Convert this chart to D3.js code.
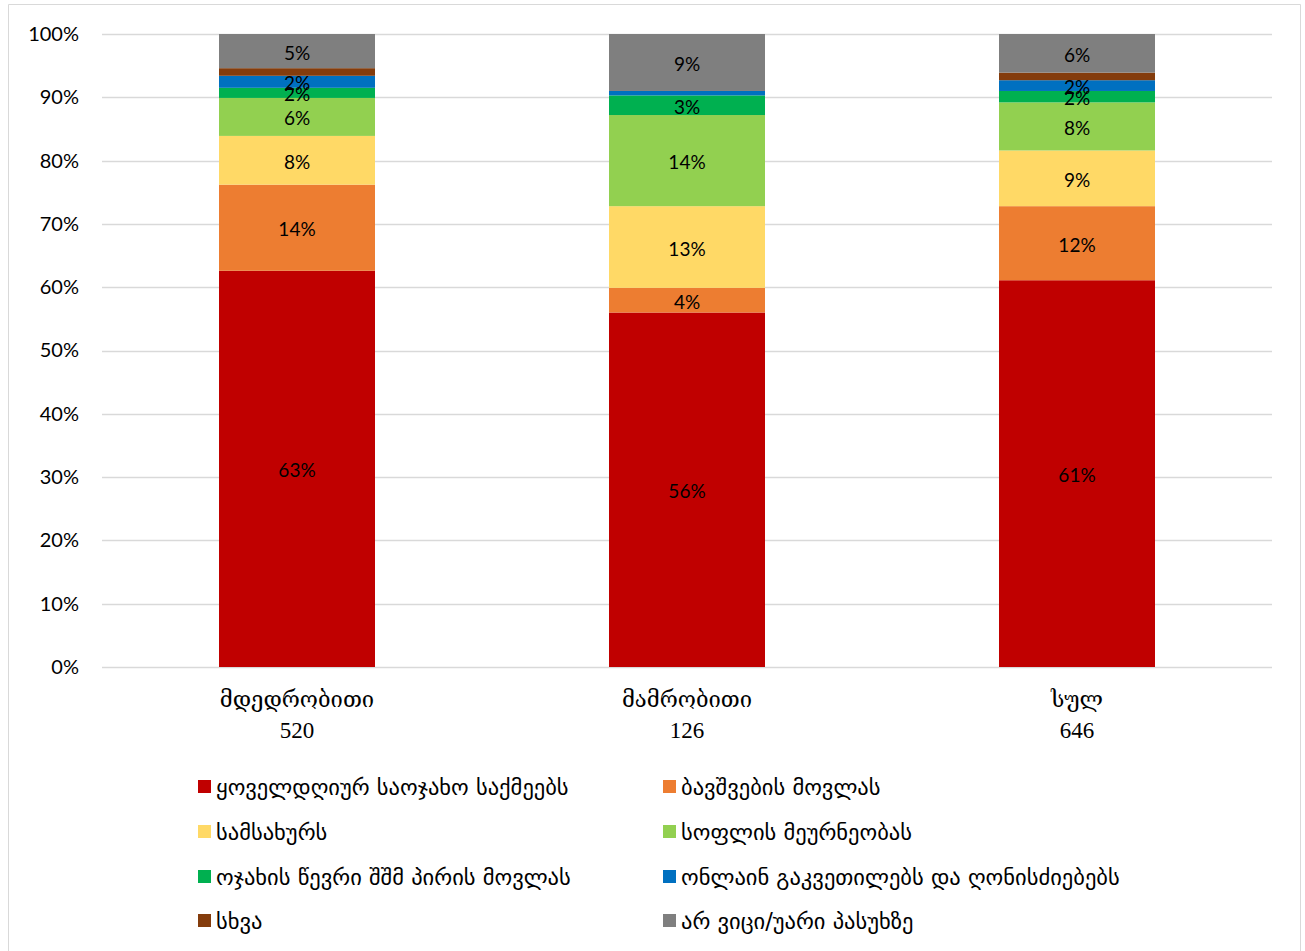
<!DOCTYPE html>
<html>
<head>
<meta charset="utf-8">
<script src="https://cdn.jsdelivr.net/npm/d3@7"></script>
<style>
  body { margin: 0; background: #fff; }
  svg { display: block; }
</style>
</head>
<body>
<svg id="chart" width="1305" height="951"></svg>
<script>
// categories with respondent counts
var categories = ["მდედრობითი", "მამრობითი", "სულ"];
var counts = ["520", "126", "646"];

// series names (stack order, bottom to top)
var seriesNames = [
    "ყოველდღიურ საოჯახო საქმეებს",
    "ბავშვების მოვლას",
    "სამსახურს",
    "სოფლის მეურნეობას",
    "ოჯახის წევრი შშმ პირის მოვლას",
    "ონლაინ გაკვეთილებს და ღონისძიებებს",
    "სხვა",
    "არ ვიცი/უარი პასუხზე"
];
var seriesColors = ["#C00000", "#ED7D31", "#FFD966", "#92D050", "#00B050", "#0070C0", "#843C0C", "#7F7F7F"];

// values in percent, one array per category
var femaleValues = [62.6, 13.6, 7.7, 6.0, 1.6, 1.9, 1.2, 5.4];
var maleValues   = [56.0, 3.9, 12.9, 14.4, 3.1, 0.7, 0.0, 9.0];
var totalValues  = [61.1, 11.7, 8.8, 7.6, 1.8, 1.7, 1.2, 6.1];

var yTicks = [0, 10, 20, 30, 40, 50, 60, 70, 80, 90, 100];

var allValues = [femaleValues, maleValues, totalValues];

var svg = d3.select("#chart");

// outer frame
svg.append("path")
    .attr("d", "M8.5,951 V4.5 H1300.5 V951")
    .attr("fill", "none")
    .attr("stroke", "#d9d9d9")
    .attr("stroke-width", 1);

var plotLeft = 102, plotRight = 1272, plotTop = 34, plotBottom = 667;

var x = d3.scaleBand()
    .domain(categories)
    .range([plotLeft, plotRight])
    .paddingInner(0.6)
    .paddingOuter(0.3);

var y = d3.scaleLinear()
    .domain([0, 100])
    .range([plotBottom, plotTop]);

// gridlines
svg.append("g")
    .selectAll("line")
    .data(yTicks)
    .join("line")
        .attr("x1", plotLeft)
        .attr("x2", plotRight)
        .attr("y1", function (d) { return Math.round(y(d)) + 0.5; })
        .attr("y2", function (d) { return Math.round(y(d)) + 0.5; })
        .attr("stroke", "#d9d9d9")
        .attr("stroke-width", 1.5);

// y axis labels
var yAxis = d3.axisLeft(y)
    .tickValues(yTicks)
    .tickFormat(function (d) { return d + "%"; })
    .tickSize(0)
    .tickPadding(23);

var yg = svg.append("g")
    .attr("transform", "translate(" + plotLeft + ",0)")
    .call(yAxis);
yg.select(".domain").remove();
yg.selectAll("text")
    .attr("font-family", "Lato, 'Open Sans', sans-serif")
    .attr("font-size", 20)
    .attr("fill", "#000");

// stack the data
var rows = categories.map(function (c, i) {
    var row = { category: c };
    seriesNames.forEach(function (s, j) { row[s] = allValues[i][j]; });
    return row;
});
var stacked = d3.stack().keys(seriesNames)(rows);

var layers = svg.append("g")
    .selectAll("g")
    .data(stacked)
    .join("g")
        .attr("fill", function (d, i) { return seriesColors[i]; });

layers.selectAll("rect")
    .data(function (d) { return d; })
    .join("rect")
        .attr("x", function (d) { return x(d.data.category); })
        .attr("width", x.bandwidth())
        .attr("y", function (d) { return y(d[1]); })
        .attr("height", function (d) { return y(d[0]) - y(d[1]); });

// data labels
var labels = svg.append("g");
stacked.forEach(function (layer) {
    layer.forEach(function (d) {
        var v = d[1] - d[0];
        if (v < 1.5) return;
        labels.append("text")
            .attr("x", x(d.data.category) + x.bandwidth() / 2)
            .attr("y", (y(d[0]) + y(d[1])) / 2)
            .attr("dy", "0.45em")
            .attr("text-anchor", "middle")
            .attr("font-family", "Lato, 'Open Sans', sans-serif")
            .attr("font-size", 19)
            .attr("fill", "#000")
            .text(Math.round(v) + "%");
    });
});

// category labels
var xl = svg.append("g")
    .selectAll("text")
    .data(categories)
    .join("text")
        .attr("x", function (d) { return x(d) + x.bandwidth() / 2; })
        .attr("y", 707)
        .attr("text-anchor", "middle")
        .attr("font-family", "'DejaVu Serif', 'Liberation Serif', serif")
        .attr("font-size", 22)
        .attr("fill", "#000");
xl.append("tspan")
    .attr("x", function (d) { return x(d) + x.bandwidth() / 2; })
    .text(function (d) { return d; });
xl.append("tspan")
    .attr("x", function (d) { return x(d) + x.bandwidth() / 2; })
    .attr("dy", 31)
    .attr("font-family", "'Liberation Serif', serif")
    .attr("font-size", 23)
    .text(function (d, i) { return counts[i]; });

// legend
var legendX = [198, 663];
var legendY = [787, 832, 877, 921];
var legend = svg.append("g")
    .selectAll("g")
    .data(seriesNames)
    .join("g")
        .attr("transform", function (d, i) {
            return "translate(" + legendX[i % 2] + "," + legendY[Math.floor(i / 2)] + ")";
        });
legend.append("rect")
    .attr("x", 0)
    .attr("y", -7)
    .attr("width", 13)
    .attr("height", 13)
    .attr("fill", function (d, i) { return seriesColors[i]; });
legend.append("text")
    .attr("x", 18)
    .attr("y", 0)
    .attr("dy", "0.35em")
    .attr("font-family", "'DejaVu Sans', sans-serif")
    .attr("font-size", 22.5)
    .attr("fill", "#000")
    .text(function (d) { return d; });
</script>
</body>
</html>
